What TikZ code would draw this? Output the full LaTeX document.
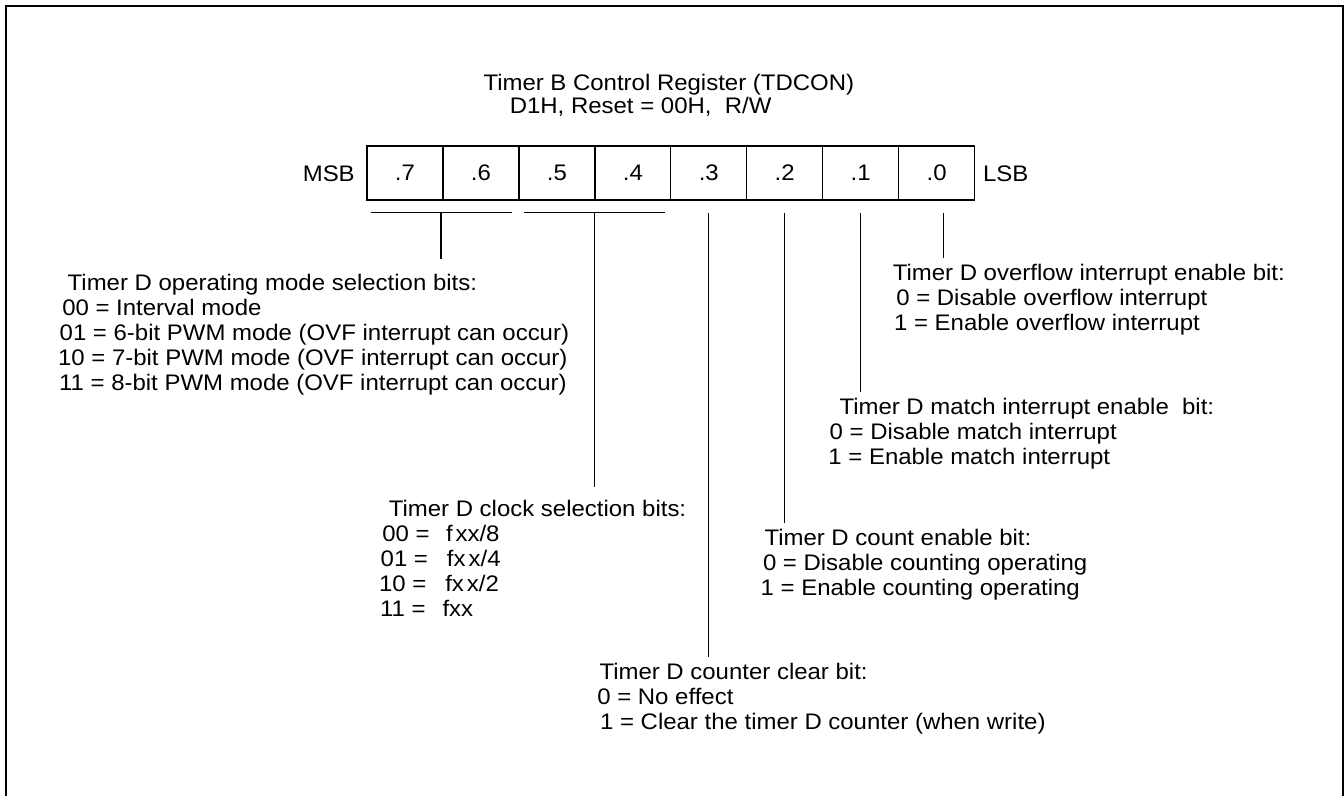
\documentclass[tikz,border=0pt]{standalone}
\usepackage{fontspec}
\setmainfont{Liberation Sans}[FakeStretch=1.065]
\newcommand\dfont{\fontsize{22.5}{25}\selectfont}
\begin{document}
\begin{tikzpicture}[x=1pt,y=-1pt,
  frame/.style={line width=2.3pt},
  reg/.style={draw, line width=1.3pt, minimum width=75.95pt, minimum height=54pt, inner sep=0pt, outer sep=0pt, font=\dfont},
  conn/.style={line width=1.3pt},
  lbl/.style={anchor=base west, inner sep=0pt, outer sep=0pt, font=\dfont}]
\useasboundingbox (0,0) rectangle (1344,796);
% frame (open at the bottom)
\draw[frame] (6,796) -- (6,6) -- (1342.7,6) -- (1342.7,796);
% title
\node[lbl] (title1) at (483.5,90.7) {Timer B Control Register (TDCON)};
\node[lbl] (title2) at (509.8,113.3) {D1H, Reset = 00H,\ \ R/W};
% register
\foreach \i/\t in {0/.7,1/.6,2/.5,3/.4,4/.3,5/.2,6/.1,7/.0}
  \node[reg] (c\i) at ({367+75.95*(\i+0.5)},173) {\t};
\node[lbl] (msb) at (302.8,181) {MSB};
\node[lbl] (lsb) at (983,181) {LSB};
% brackets
\coordinate (b1l) at (371.1,212.7);
\coordinate (b1r) at (512,212.7);
\coordinate (b2l) at (523.5,212.7);
\coordinate (b2r) at (664.8,212.7);
\draw[conn] (b1l) -- (b1r);
\draw[conn] (b2l) -- (b2r);
% connector coordinates
\coordinate (s1) at (440.9,212.7);  \coordinate (e1) at (440.9,259.3);
\coordinate (s2) at (594.2,212.7);  \coordinate (e2) at (594.2,486.7);
\coordinate (s3) at (708.3,213.3);  \coordinate (e3) at (708.3,656.7);
\coordinate (s4) at (784.3,213.3);  \coordinate (e4) at (784.3,523.3);
\coordinate (s5) at (860.7,213.3);  \coordinate (e5) at (860.7,391.7);
\coordinate (s6) at (943.3,213.3);  \coordinate (e6) at (943.3,258.3);
\draw[conn] (s1) -- (e1);
\draw[conn] (s2) -- (e2);
\draw[conn] (s3) -- (e3);
\draw[conn] (s4) -- (e4);
\draw[conn] (s5) -- (e5);
\draw[conn] (s6) -- (e6);
% block 1: operating mode
\node[lbl] (m0) at (67.7,290.5) {Timer D operating mode selection bits:};
\node[lbl] (m1) at (62.3,315.5) {00 = Interval mode};
\node[lbl] (m2) at (59.7,340.5) {01 = 6-bit PWM mode (OVF interrupt can occur)};
\node[lbl] (m3) at (58.1,365.5) {10 = 7-bit PWM mode (OVF interrupt can occur)};
\node[lbl] (m4) at (59.1,390.5) {11 = 8-bit PWM mode (OVF interrupt can occur)};
% block 2: clock selection
\node[lbl] (k0) at (388.8,516) {Timer D clock selection bits:};
\node[lbl] (k1) at (382.3,541) {00 =\hspace{16.6pt}f\hspace{2.7pt}xx/8};
\node[lbl] (k2) at (380.7,566) {01 =\hspace{19pt}fx\hspace{3pt}x/4};
\node[lbl] (k3) at (379,591) {10 =\hspace{19pt}fx\hspace{3pt}x/2};
\node[lbl] (k4) at (380,616) {11 =\hspace{17pt}fxx};
% block 3: counter clear
\node[lbl] (r0) at (599.5,679) {Timer D counter clear bit:};
\node[lbl] (r1) at (597.3,704) {0 = No effect};
\node[lbl] (r2) at (600.1,729) {1 = Clear the timer D counter (when write)};
% block 4: count enable
\node[lbl] (n0) at (764.5,545.7) {Timer D count enable bit:};
\node[lbl] (n1) at (763,570.7) {0 = Disable counting operating};
\node[lbl] (n2) at (760.7,595.7) {1 = Enable counting operating};
% block 5: match interrupt
\node[lbl] (h0) at (839.5,414) {Timer D match interrupt enable\ \ bit:};
\node[lbl] (h1) at (829.7,439) {0 = Disable match interrupt};
\node[lbl] (h2) at (828.4,464) {1 = Enable match interrupt};
% block 6: overflow interrupt
\node[lbl] (o0) at (892.8,280.7) {Timer D overflow interrupt enable bit:};
\node[lbl] (o1) at (896.3,305.7) {0 = Disable overflow interrupt};
\node[lbl] (o2) at (894.1,330.7) {1 = Enable overflow interrupt};
\end{tikzpicture}
\end{document}
